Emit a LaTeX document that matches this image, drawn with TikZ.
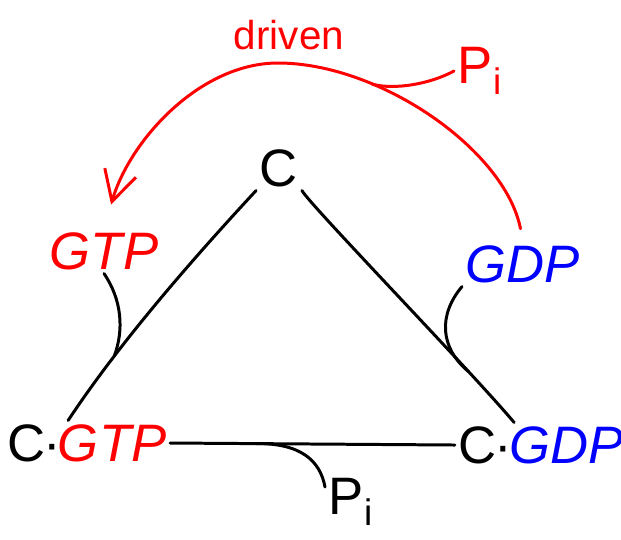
\documentclass[tikz,border=0pt]{standalone}
\usepackage{fontspec}
\setmainfont{Liberation Sans}
\usetikzlibrary{arrows.meta}
\tikzset{
  lbl/.style={inner sep=2pt,font=\fontsize{30}{36}\selectfont},
  small/.style={inner sep=2pt,font=\fontsize{23}{28}\selectfont},
  edge/.style={line width=1.7pt,line cap=round},
}
\newcommand{\cdotsp}{\kern-1.5pt·\kern-1.5pt}
\begin{document}
\begin{tikzpicture}[x=0.02cm,y=-0.02cm]
  \useasboundingbox (0,0) rectangle (621,539);
  % species
  \node[lbl] (ctop) at (279,168) {C};
  \node[lbl,text=red] (gtp) at (104,251) {\itshape GTP};
  \node[lbl,text=blue] (gdp) at (523,264) {\itshape GDP};
  \node[lbl] (cgtp) at (87,443) {C\cdotsp{\color{red}\itshape GTP}};
  \node[lbl] (cgdp) at (541,445) {C\cdotsp{\color{blue}\itshape GDP}};
  \node[lbl] (pib) at (351,502) {P\textsubscript{i}};
  \node[lbl,text=red] (pit) at (480,71) {P\textsubscript{i}};
  \node[small,text=red] (drv) at (289,35) {driven};

  % cycle
  \draw[edge] (ctop.south west) .. controls (188,264) and (118,345) .. (cgtp.130) coordinate[pos=0.72] (bindL);
  \draw[edge] (gtp.south) .. controls (122,300) and (124,330) .. (bindL);
  \draw[edge] (ctop.south east) .. controls (310,205) and (470,370) .. (cgdp.140) coordinate[pos=0.77] (bindR);
  \draw[edge] (gdp.south west) .. controls (438,315) and (440,348) .. (bindR);
  \draw[edge] (cgtp.east) -- (cgdp.west) coordinate[pos=0.3] (rel);
  \draw[edge] (rel) .. controls (300,443) and (320,460) .. (pib.150);

  % driven exchange
  \draw[edge,red,-{Straight Barb[length=0.6cm,width=0.65cm]},shorten <=0.26cm,shorten >=0.5cm]
    (gdp.north) .. controls (505,150) and (380,63) .. (278,63) coordinate[pos=0.7] (relT)
    .. controls (200,63) and (130,140) .. (gtp.north);
  \draw[edge,red] (pit.west) .. controls (430,84) and (395,90) .. (relT);
\end{tikzpicture}
\end{document}
